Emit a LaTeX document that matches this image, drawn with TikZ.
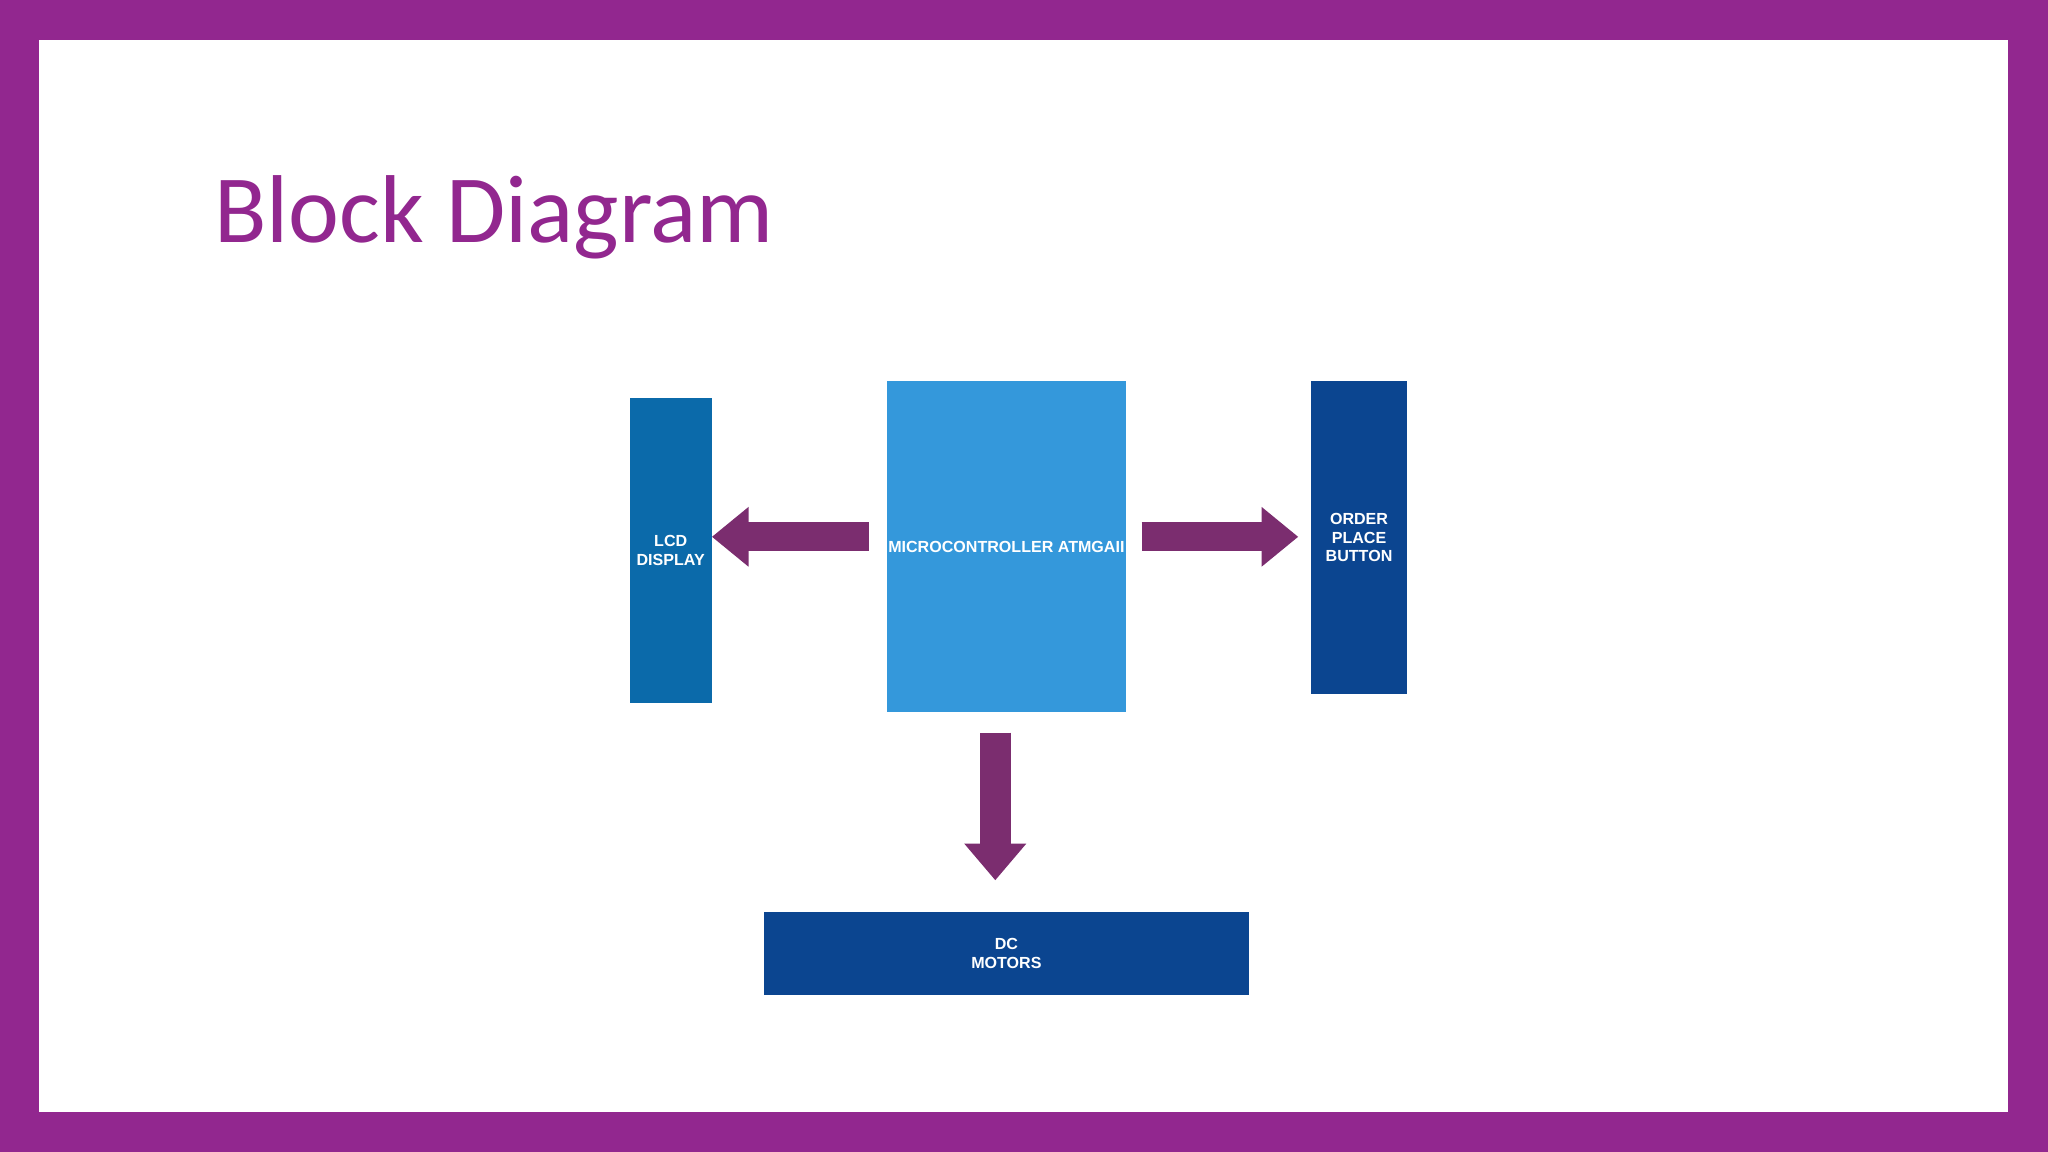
\documentclass[tikz,border=0pt]{standalone}
\usepackage{fontspec}
\setmainfont{Carlito}
\newfontfamily\boxfont{Liberation Sans}
\usetikzlibrary{arrows.meta}
\definecolor{frame}{HTML}{92278F}
\definecolor{arr}{HTML}{7B2D6F}
\definecolor{bmid}{HTML}{0B6AAA}
\definecolor{blight}{HTML}{3498DB}
\definecolor{bdark}{HTML}{0B4590}
\begin{document}
\begin{tikzpicture}[x=0.02cm,y=-0.02cm,
  blk/.style={draw=none,inner sep=0pt,align=center,text=white,font=\boxfont\bfseries\fontsize{7}{8}\selectfont},
  conn/.style={arr,line width=12.5pt,-{Triangle[length=16pt,width=25pt]}}]
\fill[frame] (0,0) rectangle (1568,882);
\fill[white] (30,31) rectangle (1537,851);
\useasboundingbox (0,0) rectangle (1568,882);
\node[anchor=base west,text=frame,font=\fontsize{42}{48}\selectfont] (title) at (158,186) {Block Diagram};
\node[blk,fill=bmid,minimum width=63*0.02cm,minimum height=233*0.02cm] (lcd) at (513.5,421.5) {LCD\\DISPLAY};
\node[blk,fill=blight,minimum width=183*0.02cm,minimum height=253*0.02cm] (mcu) at (770.5,418.5) {MICROCONTROLLER ATMGAII};
\node[blk,fill=bdark,minimum width=73*0.02cm,minimum height=239*0.02cm] (btn) at (1040.5,411.5) {ORDER\\PLACE\\BUTTON};
\node[blk,fill=bdark,minimum width=371*0.02cm,minimum height=64*0.02cm] (dc) at (770.5,730) {DC\\MOTORS};
\coordinate (la) at (665,411);
\coordinate (lb) at (545,411);
\coordinate (ra) at (874,411);
\coordinate (rb) at (994,411);
\coordinate (da) at (762,561);
\coordinate (db) at (762,674);
\draw[conn] (la) -- (lb);
\draw[conn] (ra) -- (rb);
\draw[conn,line width=13.5pt,-{Triangle[length=16pt,width=26pt]}] (da) -- (db);
\end{tikzpicture}
\end{document}
